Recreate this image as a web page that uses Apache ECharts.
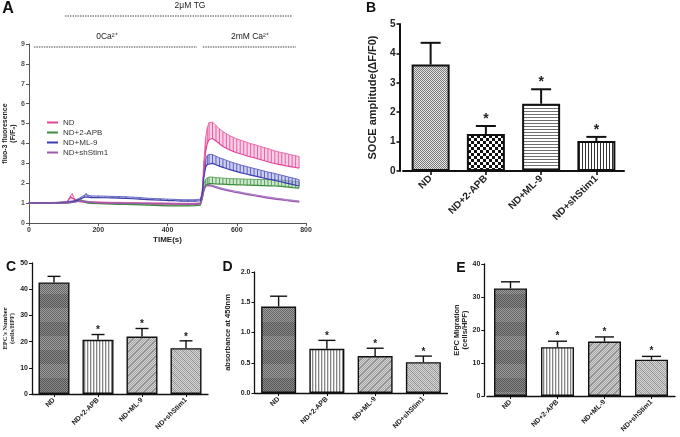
<!DOCTYPE html>
<html><head><meta charset="utf-8">
<script src="https://cdn.jsdelivr.net/npm/echarts@6/dist/echarts.min.js"></script>
<style>html,body{margin:0;padding:0;background:#fff}#c{width:680px;height:437px}</style>
</head><body><div id="c"></div>
<script>
// ---------- DATA ----------
const groups = ['ND', 'ND+2-APB', 'ND+ML-9', 'ND+shStim1'];
const stars = ['', '*', '*', '*'];

// Panel A: fluo-3 fluorescence (F/F0) vs time (s)
const timeS = [0,20,40,60,80,100,110,120,125,130,140,150,160,165,170,180,200,220,240,260,280,300,320,340,360,380,400,420,440,460,480,495,500,505,510,515,520,530,540,550,560,570,580,590,600,610,620,630,640,650,660,670,680,690,700,710,720,730,740,750,760,770,780];
const ndMean = [1.0,1.0,1.0,1.0,1.0,1.02,1.05,1.3,1.4,1.2,1.08,1.06,1.05,1.05,1.04,1.03,1.02,1.01,1.0,1.0,0.99,0.99,0.98,0.98,0.97,0.97,0.96,0.96,0.95,0.95,0.95,0.97,1.3,2.6,3.6,4.0,4.2,4.25,4.12,3.98,3.85,3.76,3.67,3.6,3.53,3.48,3.43,3.37,3.32,3.28,3.23,3.18,3.13,3.08,3.03,2.99,2.95,2.92,2.88,2.85,2.82,2.79,2.76];
const ndErr = [0.03,0.03,0.03,0.03,0.03,0.03,0.03,0.08,0.08,0.05,0.04,0.04,0.04,0.04,0.04,0.04,0.04,0.04,0.04,0.04,0.04,0.04,0.04,0.04,0.04,0.04,0.04,0.04,0.04,0.04,0.04,0.04,0.2,0.5,0.7,0.8,0.85,0.82,0.78,0.76,0.75,0.73,0.72,0.71,0.70,0.69,0.68,0.68,0.67,0.67,0.67,0.66,0.66,0.66,0.65,0.64,0.63,0.62,0.62,0.61,0.60,0.59,0.58];
const apbMean = [1.0,1.0,1.0,0.99,0.99,1.0,1.0,1.02,1.03,1.05,1.08,1.12,1.06,1.02,1.0,0.98,0.97,0.96,0.95,0.94,0.93,0.92,0.91,0.9,0.88,0.87,0.86,0.86,0.86,0.86,0.87,0.9,1.2,1.7,1.9,1.95,1.98,1.98,1.96,1.95,1.95,1.94,1.93,1.93,1.92,1.92,1.91,1.9,1.9,1.89,1.89,1.88,1.88,1.87,1.87,1.86,1.85,1.84,1.82,1.8,1.78,1.77,1.75];
const apbErr = [0.03,0.03,0.03,0.03,0.03,0.03,0.03,0.03,0.03,0.04,0.04,0.05,0.05,0.05,0.05,0.05,0.05,0.05,0.05,0.05,0.05,0.05,0.05,0.05,0.05,0.05,0.05,0.05,0.05,0.05,0.05,0.05,0.1,0.25,0.3,0.32,0.33,0.33,0.32,0.32,0.31,0.31,0.3,0.3,0.3,0.3,0.3,0.3,0.3,0.3,0.3,0.3,0.31,0.31,0.31,0.31,0.31,0.31,0.32,0.32,0.32,0.32,0.32];
const ml9Mean = [1.0,1.0,1.0,1.0,1.01,1.03,1.04,1.06,1.07,1.09,1.14,1.22,1.3,1.36,1.3,1.28,1.28,1.27,1.26,1.25,1.24,1.22,1.2,1.18,1.16,1.15,1.13,1.12,1.1,1.1,1.1,1.12,1.4,2.3,2.8,2.95,3.0,3.0,2.93,2.86,2.8,2.74,2.68,2.63,2.58,2.53,2.49,2.45,2.41,2.37,2.33,2.29,2.25,2.21,2.18,2.14,2.1,2.06,2.02,1.98,1.94,1.9,1.86];
const ml9Err = [0.03,0.03,0.03,0.03,0.03,0.04,0.04,0.04,0.04,0.05,0.06,0.08,0.1,0.12,0.1,0.08,0.08,0.08,0.08,0.08,0.08,0.08,0.08,0.07,0.07,0.07,0.07,0.07,0.07,0.07,0.07,0.08,0.15,0.3,0.4,0.45,0.45,0.44,0.43,0.42,0.42,0.41,0.41,0.4,0.4,0.39,0.39,0.38,0.38,0.37,0.37,0.36,0.36,0.35,0.35,0.35,0.34,0.34,0.34,0.33,0.33,0.33,0.32];
const stimMean = [1.0,1.0,1.0,1.0,1.0,1.0,1.01,1.02,1.03,1.05,1.08,1.1,1.08,1.06,1.05,1.03,1.01,1.0,0.99,0.99,0.98,0.98,0.97,0.97,0.96,0.96,0.96,0.95,0.95,0.95,0.95,0.97,1.2,1.6,1.85,1.9,1.88,1.84,1.78,1.73,1.68,1.64,1.6,1.56,1.53,1.5,1.46,1.43,1.4,1.37,1.34,1.31,1.28,1.25,1.23,1.2,1.18,1.16,1.13,1.11,1.09,1.07,1.05];
const stimErr = [0.03,0.03,0.03,0.03,0.03,0.03,0.03,0.03,0.03,0.03,0.04,0.04,0.04,0.04,0.04,0.03,0.03,0.03,0.03,0.03,0.03,0.03,0.03,0.03,0.03,0.03,0.03,0.03,0.03,0.03,0.03,0.03,0.05,0.06,0.06,0.06,0.06,0.06,0.06,0.06,0.06,0.06,0.06,0.06,0.06,0.06,0.06,0.06,0.06,0.06,0.06,0.06,0.06,0.06,0.06,0.06,0.06,0.06,0.06,0.06,0.06,0.06,0.06];

// Panel A annotations (time spans in s)
const annoText = ['2\u03bcM TG', '0Ca\u00b2\u207a', '2mM Ca\u00b2\u207a'];
const annoTextAt = [465, 225, 638];
const annoSpan = [[104, 760], [14, 485], [502, 771]];

// Panel B: SOCE amplitude
const soceMean = [3.62, 1.26, 2.29, 1.02];
const soceErr = [0.74, 0.27, 0.49, 0.14];
// Panel C: EPCs number
const epcMean = [42.6, 20.7, 21.9, 17.5];
const epcErr = [2.3, 2.0, 3.1, 2.8];
// Panel D: absorbance at 450nm
const absMean = [1.43, 0.73, 0.61, 0.51];
const absErr = [0.17, 0.14, 0.13, 0.10];
// Panel E: EPC migration
const migMean = [32.6, 14.8, 16.5, 11.0];
const migErr = [2.0, 1.8, 1.4, 1.0];

// ---------- STYLE HELPERS ----------
const FONT = 'Liberation Sans, Arial, sans-serif';
function pat(w, h, draw) {
  const c = document.createElement('canvas'); c.width = w; c.height = h;
  const g = c.getContext('2d'); draw(g); return { image: c, repeat: 'repeat' };
}
function checker(g, w, h, a, b) {
  for (let y = 0; y < h; y++) for (let x = 0; x < w; x++) { g.fillStyle = ((x + y) % 2) ? b : a; g.fillRect(x, y, 1, 1); }
}
const patB = [
  pat(2, 2, g => checker(g, 2, 2, '#7a7a7a', '#e4e4e4')),
  pat(6, 6, g => { g.fillStyle = '#fff'; g.fillRect(0, 0, 6, 6); g.fillStyle = '#111'; g.fillRect(0, 0, 3, 3); g.fillRect(3, 3, 3, 3); }),
  pat(1, 3, g => { g.fillStyle = '#fff'; g.fillRect(0, 0, 1, 3); g.fillStyle = '#707070'; g.fillRect(0, 0, 1, 1); }),
  pat(3, 1, g => { g.fillStyle = '#fff'; g.fillRect(0, 0, 3, 1); g.fillStyle = '#333'; g.fillRect(0, 0, 1, 1); })
];
const patC = [
  pat(2, 28, g => { for (let y = 0; y < 28; y++) for (let x = 0; x < 2; x++) { const d = y < 14; g.fillStyle = ((x + y) % 2) ? (d ? '#9c9c9c' : '#8a8a8a') : (d ? '#666' : '#555'); g.fillRect(x, y, 1, 1); } }),
  pat(3, 1, g => { g.fillStyle = '#fff'; g.fillRect(0, 0, 3, 1); g.fillStyle = '#858585'; g.fillRect(0, 0, 1, 1); g.fillStyle = '#d8d8d8'; g.fillRect(1, 0, 1, 1); }),
  pat(8, 8, g => { checker(g, 8, 8, '#a4a4a4', '#d4d4d4'); g.fillStyle = '#8a8a8a'; for (let k = 0; k < 8; k++) g.fillRect(k, 7 - k, 1, 1); }),
  pat(8, 8, g => { checker(g, 8, 8, '#a4a4a4', '#d4d4d4'); g.fillStyle = '#8a8a8a'; for (let k = 0; k < 8; k++) g.fillRect(k, k, 1, 1); })
];

function bandSeries(name, mean, err, fill, stroke) {
  return {
    type: 'custom', name: name + ' SEM', xAxisIndex: 0, yAxisIndex: 0, silent: true, z: 2,
    data: timeS.map((t, i) => [t, mean[i], err[i]]), encode: { x: 0, y: 1 },
    renderItem: (params, api) => {
      const i = params.dataIndex;
      const t = api.value(0), m = api.value(1), e = api.value(2);
      const b = api.coord([t, m]), u = api.coord([t, m + e]);
      const ch = [{ type: 'line', shape: { x1: b[0], y1: b[1], x2: u[0], y2: u[1] }, style: { stroke: stroke, lineWidth: 1 } }];
      if (i < timeS.length - 1) {
        const b2 = api.coord([timeS[i + 1], mean[i + 1]]), u2 = api.coord([timeS[i + 1], mean[i + 1] + err[i + 1]]);
        ch.unshift({ type: 'polygon', shape: { points: [b, u, u2, b2] }, style: { fill: fill, opacity: 0.55 } });
        ch.push({ type: 'line', shape: { x1: u[0], y1: u[1], x2: u2[0], y2: u2[1] }, style: { stroke: stroke, lineWidth: 0.9 } });
      }
      return { type: 'group', children: ch };
    }
  };
}
function meanSeries(name, mean, color) {
  return { type: 'line', name: name, xAxisIndex: 0, yAxisIndex: 0, z: 3, symbol: 'none', silent: true,
    data: timeS.map((t, i) => [t, mean[i]]), lineStyle: { color: color, width: 1.2 }, itemStyle: { color: color } };
}
function barSeries(ax, vals, pats, bw, lw) {
  return { type: 'bar', xAxisIndex: ax, yAxisIndex: ax, barWidth: bw, silent: true, z: 2,
    data: vals.map((v, i) => ({ value: v, itemStyle: { color: pats[i], borderColor: '#111', borderWidth: lw } })) };
}
function errSeries(ax, vals, errs, capW, lw, starSize, starGap) {
  return { type: 'custom', xAxisIndex: ax, yAxisIndex: ax, z: 5, silent: true,
    data: vals.map((v, i) => [i, v, errs[i]]), encode: { x: 0, y: 1 },
    renderItem: (params, api) => {
      const i = api.value(0), v = api.value(1), e = api.value(2);
      const p0 = api.coord([i, v]), p1 = api.coord([i, v + e]);
      const ch = [
        { type: 'line', shape: { x1: p0[0], y1: p0[1], x2: p1[0], y2: p1[1] }, style: { stroke: '#111', lineWidth: lw } },
        { type: 'line', shape: { x1: p1[0] - capW / 2, y1: p1[1], x2: p1[0] + capW / 2, y2: p1[1] }, style: { stroke: '#111', lineWidth: lw } }
      ];
      const s = stars[params.dataIndex];
      if (s) ch.push({ type: 'text', x: p1[0], y: p1[1] - starGap, style: { text: s, fontSize: starSize, fontWeight: 'bold', fontFamily: FONT, fill: '#222', align: 'center', verticalAlign: 'middle' } });
      return { type: 'group', children: ch };
    } };
}
function catAxis(gi, fs, lw, tickLen, margin) {
  return { type: 'category', gridIndex: gi, data: groups,
    axisLine: { show: true, lineStyle: { color: '#111', width: lw } },
    axisTick: { show: true, alignWithLabel: true, length: tickLen, lineStyle: { color: '#111', width: lw * 0.8 } },
    axisLabel: { interval: 0, rotate: 45, fontSize: fs, fontWeight: 'bold', color: '#222', fontFamily: FONT, margin: margin },
    splitLine: { show: false } };
}
function valAxis(gi, min, max, interval, name, nameGap, fs, nfs, lw, offset, nameFamily, fmt, lh) {
  return { type: 'value', gridIndex: gi, min: min, max: max, interval: interval, offset: offset,
    name: name, nameLocation: 'middle', nameGap: nameGap,
    nameTextStyle: { fontSize: nfs, fontWeight: 'bold', color: '#222', fontFamily: nameFamily || FONT, lineHeight: lh || nfs + 1 },
    axisLine: { show: true, lineStyle: { color: '#111', width: lw } },
    axisTick: { show: true, length: 3, lineStyle: { color: '#111', width: lw * 0.8 } },
    axisLabel: { fontSize: fs, fontWeight: 'bold', color: '#222', fontFamily: FONT, margin: 4, formatter: fmt },
    splitLine: { show: false } };
}

const chart = echarts.init(document.getElementById('c'), null, { renderer: 'canvas' });
const option = {
  animation: false,
  backgroundColor: '#fff',
  grid: [
    { left: 29, top: 44, width: 277, height: 179 },
    { left: 403, top: 24, width: 221, height: 147 },
    { left: 32, top: 263, width: 176, height: 131 },
    { left: 254.5, top: 272, width: 193, height: 121 },
    { left: 487, top: 264, width: 188, height: 132 }
  ],
  legend: {
    data: groups, orient: 'vertical', left: 42, top: 113, itemWidth: 11, itemHeight: 2, itemGap: 1, icon: 'rect',
    textStyle: { fontSize: 8, color: '#333', fontFamily: FONT, lineHeight: 9 }, selectedMode: false
  },
  xAxis: [
    { type: 'value', gridIndex: 0, min: 0, max: 800, interval: 200, name: 'TIME(s)', nameLocation: 'middle', nameGap: 13,
      nameTextStyle: { fontSize: 8, fontWeight: 'bold', color: '#222', fontFamily: FONT },
      axisLine: { show: true, lineStyle: { color: '#555', width: 1 } },
      axisTick: { show: true, length: 3, lineStyle: { color: '#555' } },
      axisLabel: { fontSize: 7, fontWeight: 'bold', color: '#333', fontFamily: FONT, margin: 4 },
      splitLine: { show: false } },
    catAxis(1, 10, 2, 4, 6),
    catAxis(2, 7, 1.3, 3, 5),
    catAxis(3, 7, 1.3, 3, 5),
    catAxis(4, 7, 1.3, 3, 5)
  ],
  yAxis: [
    { type: 'value', gridIndex: 0, min: 0, max: 9, interval: 1, name: 'fluo-3 fluoresence\n(F/F\u2080)', nameLocation: 'middle', nameGap: 12,
      nameTextStyle: { fontSize: 7, fontWeight: 'bold', color: '#222', fontFamily: FONT, lineHeight: 8 },
      axisLine: { show: true, lineStyle: { color: '#555', width: 1 } },
      axisTick: { show: true, length: 3, lineStyle: { color: '#555' } },
      axisLabel: { fontSize: 7, fontWeight: 'bold', color: '#555', fontFamily: FONT, margin: 4 },
      splitLine: { show: false } },
    valAxis(1, 0, 5, 1, 'SOCE amplitude(\u0394F/F0)', 21, 10, 11, 2, 3.5),
    valAxis(2, 0, 50, 10, "EPC's Number\n(cells/HPF)", 15, 7, 6.5, 1.3, 0, 'Liberation Serif, Times New Roman, serif', null, 7),
    valAxis(3, 0, 2, 0.5, 'absorbance at 450nm', 22, 7, 7.5, 1.3, 0, null, v => v.toFixed(1)),
    valAxis(4, 0, 40, 10, 'EPC Migration\n(cells/HPF)', 8, 7, 7.5, 1.3, 2.7, null, null, 8)
  ],
  series: [
    bandSeries('ND', ndMean, ndErr, '#f4a6d6', '#e8609f'),
    bandSeries('ND+2-APB', apbMean, apbErr, '#a6d6a6', '#5aa05a'),
    bandSeries('ND+ML-9', ml9Mean, ml9Err, '#a4a8e4', '#5a5ec0'),
    bandSeries('ND+shStim1', stimMean, stimErr, '#d2b0e0', '#a070b8'),
    meanSeries('ND', ndMean, '#e2449a'),
    meanSeries('ND+2-APB', apbMean, '#3c8c3c'),
    meanSeries('ND+ML-9', ml9Mean, '#3a3eaa'),
    meanSeries('ND+shStim1', stimMean, '#9a58b0'),
    barSeries(1, soceMean, patB, 38, 2),
    errSeries(1, soceMean, soceErr, 20, 2, 14, 7),
    barSeries(2, epcMean, patC, 31, 1.4),
    errSeries(2, epcMean, epcErr, 13, 1.4, 10, 4),
    barSeries(3, absMean, patC, 35, 1.4),
    errSeries(3, absMean, absErr, 17, 1.4, 10, 4),
    barSeries(4, migMean, patC, 33, 1.4),
    errSeries(4, migMean, migErr, 19, 1.4, 10, 5)
  ]
};
chart.setOption(option);

// annotations & panel letters
const px = t => chart.convertToPixel({ xAxisIndex: 0 }, t);
const annoY = [[6, 16], [37, 47], [37, 47]];
const graphics = [];
annoSpan.forEach((s, k) => {
  graphics.push({ type: 'line', silent: true, shape: { x1: px(s[0]), y1: annoY[k][1], x2: px(s[1]), y2: annoY[k][1] },
    style: { stroke: '#444', lineWidth: 1, lineDash: [1.5, 1] } });
  graphics.push({ type: 'text', silent: true, x: px(annoTextAt[k]), y: annoY[k][0],
    style: { text: annoText[k], fontSize: 8.5, fontFamily: FONT, fill: '#222', align: 'center', verticalAlign: 'middle' } });
});
const letters = [['A', 8, 9, 16], ['B', 371, 8, 14], ['C', 11, 267, 14], ['D', 227.5, 267, 14], ['E', 461, 268, 14]];
letters.forEach(l => graphics.push({ type: 'text', silent: true, x: l[1], y: l[2],
  style: { text: l[0], fontSize: l[3], fontWeight: 'bold', fontFamily: FONT, fill: '#111', align: 'center', verticalAlign: 'middle' } }));
chart.setOption({ graphic: graphics });
</script>
</body></html>
